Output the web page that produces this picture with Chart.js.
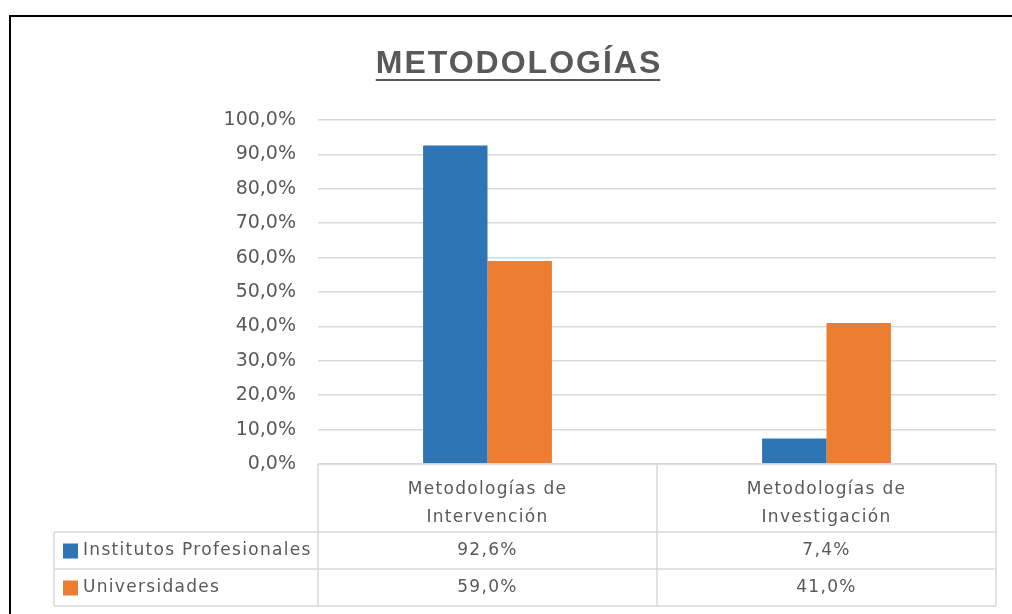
<!DOCTYPE html>
<html>
<head>
<meta charset="utf-8">
<script src="https://cdn.jsdelivr.net/npm/chart.js@4"></script>
<style>
  html, body { margin: 0; padding: 0; background: #fff; }
  #wrap { width: 1012px; height: 614px; }
</style>
</head>
<body>
<div id="wrap"><canvas id="chart"></canvas></div>
<script>
const title = 'METODOLOGÍAS';
const categories = [['Metodologías de', 'Intervención'], ['Metodologías de', 'Investigación']];
const seriesNames = ['Institutos Profesionales', 'Universidades'];
const institutos = [92.6, 7.4];
const universidades = [59.0, 41.0];
const colors = ['#2e75b6', '#ed7d31'];

const FONT = '"DejaVu Sans", sans-serif';
const TEXT = '#595959';
const LINE = '#d9d9d9';

function pct(v) {
    return v.toFixed(1).replace('.', ',') + '%';
}

// title, outer frame and the data table under the plot
const tablePlugin = {
    id: 'dataTable',
    afterDraw(chart) {
        const ctx = chart.ctx;
        const x = chart.scales.x;
        const area = chart.chartArea;
        const half = (x.getPixelForValue(1) - x.getPixelForValue(0)) / 2;
        const left = area.left, right = area.right;
        const top = area.bottom;
        const headH = 68, rowH = 37;
        const legendLeft = 54;

        ctx.save();
        // frame
        ctx.strokeStyle = '#000';
        ctx.lineWidth = 2;
        ctx.beginPath();
        ctx.moveTo(10, 614);
        ctx.lineTo(10, 16);
        ctx.lineTo(1012, 16);
        ctx.stroke();

        // title
        ctx.fillStyle = TEXT;
        ctx.font = 'bold 32px "Liberation Sans", sans-serif';
        ctx.letterSpacing = '2px';
        ctx.textAlign = 'left';
        ctx.textBaseline = 'alphabetic';
        const tw = ctx.measureText(title).width - 2;
        const tx = 518 - tw / 2, ty = 73;
        ctx.fillText(title, tx, ty);
        ctx.fillRect(tx, ty + 6, tw, 2);

        // grid lines of the table
        ctx.strokeStyle = LINE;
        ctx.lineWidth = 1.5;
        ctx.beginPath();
        const r1 = top + headH, r2 = r1 + rowH, r3 = r2 + rowH;
        ctx.moveTo(left, top); ctx.lineTo(left, r3);
        categories.forEach((c, i) => {
            const e = x.getPixelForValue(i) + half;
            ctx.moveTo(e, top); ctx.lineTo(e, r3);
        });
        ctx.moveTo(legendLeft, r1); ctx.lineTo(right, r1);
        ctx.moveTo(legendLeft, r2); ctx.lineTo(right, r2);
        ctx.moveTo(legendLeft, r3); ctx.lineTo(right, r3);
        ctx.moveTo(legendLeft, r1); ctx.lineTo(legendLeft, r3);
        ctx.moveTo(left, top); ctx.lineTo(right, top);
        ctx.stroke();

        ctx.fillStyle = TEXT;
        ctx.font = '17px ' + FONT;
        ctx.letterSpacing = '1.3px';
        ctx.textBaseline = 'middle';
        ctx.textAlign = 'center';
        categories.forEach((c, i) => {
            const cx = x.getPixelForValue(i);
            ctx.fillText(c[0], cx, top + 26);
            ctx.fillText(c[1], cx, top + 54);
        });

        chart.data.datasets.forEach((ds, d) => {
            const cy = r1 + rowH * d + rowH / 2;
            ctx.fillStyle = ds.backgroundColor;
            ctx.fillRect(63, cy - 7, 15, 15);
            ctx.fillStyle = TEXT;
            ctx.textAlign = 'left';
            ctx.fillText(ds.label, 83, cy);
            ctx.textAlign = 'center';
            ds.data.forEach((v, i) => {
                ctx.fillText(pct(v), x.getPixelForValue(i), cy);
            });
        });
        ctx.restore();
    }
};

new Chart(document.getElementById('chart'), {
    type: 'bar',
    data: {
        labels: categories,
        datasets: [
            { label: seriesNames[0], data: institutos, backgroundColor: colors[0] },
            { label: seriesNames[1], data: universidades, backgroundColor: colors[1] }
        ]
    },
    options: {
        responsive: true,
        maintainAspectRatio: false,
        animation: false,
        layout: { padding: { top: 120, left: 0, right: 16, bottom: 8 } },
        datasets: { bar: { categoryPercentage: 0.38, barPercentage: 1 } },
        plugins: {
            legend: { display: false },
            tooltip: { enabled: false }
        },
        scales: {
            x: {
                grid: { display: false },
                border: { display: false },
                ticks: { display: false },
                afterFit: (scale) => { scale.height = 142; }
            },
            y: {
                min: 0,
                max: 100,
                ticks: {
                    stepSize: 10,
                    padding: 22,
                    color: TEXT,
                    font: { family: FONT, size: 19 },
                    callback: (v) => pct(v)
                },
                grid: { color: LINE, lineWidth: 1.5, drawTicks: false },
                border: { display: false },
                afterFit: (scale) => { scale.width = 318; }
            }
        }
    },
    plugins: [tablePlugin]
});
</script>
</body>
</html>
